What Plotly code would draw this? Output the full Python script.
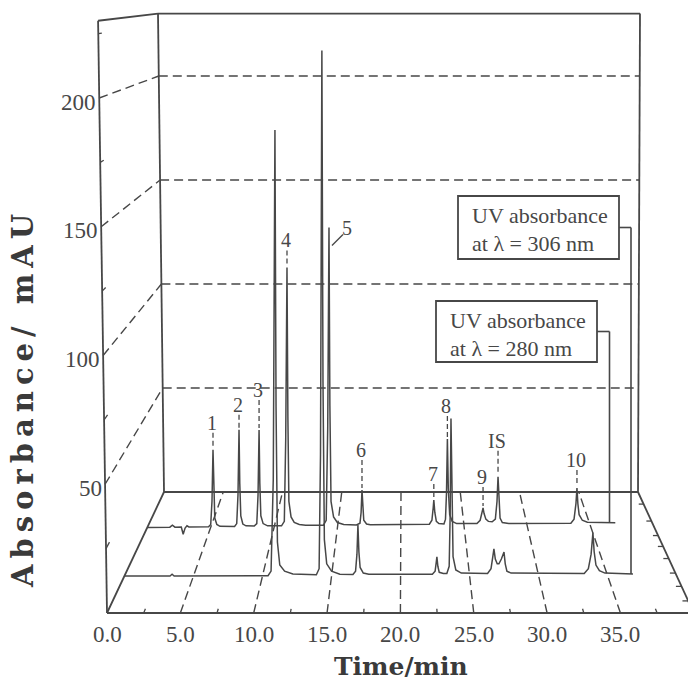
import plotly.graph_objects as go

# ---------------- data ----------------
# chromatogram at 280 nm (rear trace): time (min), absorbance (mAU)
T280 = [0.0, 1.8, 2.0, 2.2, 2.7, 2.85, 3.0, 3.15, 3.3, 4.85, 5.02, 5.12, 5.2, 5.26, 5.34, 5.5, 5.75,
        6.9, 7.07, 7.17, 7.25, 7.31, 7.39, 7.55, 7.8, 8.45, 8.65, 8.75, 8.83, 8.89, 8.97, 9.15, 9.5,
        10.6, 10.82, 10.93, 11.03, 11.1, 11.18, 11.35, 11.6, 12.0, 12.5, 13.9, 14.12, 14.24, 14.34,
        14.41, 14.5, 14.7, 15.0, 15.5, 16.5, 16.78, 16.87, 16.94, 17.0, 17.08, 17.3, 17.6, 22.25,
        22.45, 22.55, 22.6, 22.68, 22.8, 23.0, 23.3, 23.4, 23.52, 23.6, 23.67, 23.74, 23.85, 24.05,
        24.4, 26.0, 26.25, 26.4, 26.48, 26.56, 26.7, 26.9, 27.2, 27.45, 27.58, 27.66, 27.73, 27.82,
        28.0, 28.5, 33.4, 33.65, 33.8, 33.88, 33.95, 34.05, 34.3, 34.7, 36.9]
A280 = [0.3, 0.4, 1.3, 0.4, 0.5, -2.8, 0.0, 1.0, 0.5, 0.6, 1.6, 12.0, 35.1, 16.0, 4.5, 1.6, 0.8,
        0.7, 2.0, 15.0, 44.1, 20.0, 5.5, 1.8, 1.0, 0.9, 2.0, 15.0, 44.0, 20.0, 5.5, 2.0, 1.0,
        1.0, 3.0, 40.0, 117.0, 50.0, 12.0, 5.0, 2.5, 1.6, 1.3, 1.3, 3.5, 45.0, 134.9,
        55.0, 12.0, 5.0, 2.5, 1.6, 1.4, 2.2, 7.0, 17.1, 8.0, 3.5, 1.8, 1.5, 1.7,
        3.5, 9.0, 12.6, 7.0, 3.0, 2.0, 1.8, 1.8, 4.0, 16.0, 40.0, 18.0, 6.0, 3.0,
        2.0, 2.0, 3.5, 7.0, 9.0, 6.5, 4.0, 3.0, 2.8, 4.0, 12.0, 23.0, 11.0, 4.5,
        2.5, 2.1, 2.2, 4.0, 11.0, 18.0, 11.0, 6.0, 3.5, 2.6, 2.4]

# chromatogram at 306 nm (front trace)
T306 = [0.0, 3.3, 3.45, 3.6, 10.4, 10.62, 10.78, 10.9, 10.98, 11.08, 11.25, 11.6, 12.2, 13.9, 14.1,
        14.2, 14.3, 14.38, 14.48, 14.65, 15.0, 15.6, 16.55, 16.74, 16.84, 16.91, 16.98, 17.07, 17.3,
        17.7, 22.3, 22.5, 22.58, 22.63, 22.7, 22.8, 23.1, 23.35, 23.52, 23.59, 23.65, 23.71, 23.8,
        24.0, 24.4, 26.3, 26.55, 26.68, 26.76, 26.86, 27.0, 27.12, 27.3, 27.49, 27.58, 27.7, 28.0,
        33.3, 33.6, 33.8, 33.93, 34.02, 34.15, 34.4, 34.8, 36.83]
A306 = [0.0, 0.0, 0.7, 0.0, 0.1, 2.0, 40.0, 184.0, 70.0, 14.0, 4.5, 2.0, 0.8, 0.5, 3.0,
        50.0, 216.8, 80.0, 15.0, 5.0, 2.0, 0.7, 0.6, 2.0, 9.0, 21.0, 10.0, 3.5, 1.2,
        0.7, 0.7, 2.0, 5.5, 7.9, 4.0, 1.5, 1.0, 1.0, 4.0, 25.0, 65.0, 30.0, 8.0,
        2.5, 1.2, 1.0, 3.0, 8.0, 11.2, 7.0, 5.0, 5.0, 7.0, 9.9, 5.0, 2.0, 1.2,
        1.0, 3.0, 9.0, 17.8, 10.0, 4.5, 2.2, 1.2, 0.8]

PEAK_NAMES = ["1", "2", "3", "4", "5", "6", "7", "8", "9", "IS", "10"]
PEAK_TIMES = [5.2, 7.25, 8.83, 11.03, 14.34, 16.94, 22.6, 23.67, 26.48, 27.66, 33.88]
PEAK_TOPS = [35.1, 44.1, 44.0, 117.0, 134.9, 17.1, 12.6, 40.0, 9.0, 23.0, 18.0]

X_TICKS = [0, 5, 10, 15, 20, 25, 30, 35]
X_TICK_TEXT = ["0.0", "5.0", "10.0", "15.0", "20.0", "25.0", "30.0", "35.0"]
X_MINOR = [2.5, 7.5, 12.5, 17.5, 22.5, 27.5, 32.5, 37.5]
Y_TICKS = [50, 100, 150, 200]
Y_TICK_TEXT = ["50", "100", "150", "200"]
Y_MINOR = [25, 75, 125, 175, 225]
DEPTH_TICKS = [0.1, 0.22, 0.33, 0.45, 0.55, 0.64, 0.76, 0.9]

BOX_TEXT_306 = ["UV absorbance", "at \u03bb = 306 nm"]
BOX_TEXT_280 = ["UV absorbance", "at \u03bb = 280 nm"]

# ---------------- pseudo-3D projection (styling/geometry) ----------------
T_MAX, A_MAX = 40.0, 230.0
S_306, S_280 = 0.306, 0.702          # depth of the two traces (0 = front, 1 = back)
INK = "#474747"
SERIF = "Liberation Serif, Times New Roman, serif"


def proj(t, a, s, slant=False):
    x0 = 107 + (164 - 107) * s
    sx = 14.67 + (11.85 - 14.67) * s
    y0 = 613 + (492 - 613) * s
    sa = 2.575 + (2.08 - 2.575) * s
    X = x0 + sx * t
    if slant:
        sk_l = 9 / 232 + (6 / 230 - 9 / 232) * s
        sk_r = -2 / 230
        X -= (sk_l + (sk_r - sk_l) * t / T_MAX) * a
    Y = y0 - sa * a
    return X, Y


def seg_trace(segs, dash="solid", width=1.4):
    xs, ys = [], []
    for p, q in segs:
        xs += [p[0], q[0], None]
        ys += [p[1], q[1], None]
    return go.Scatter(x=xs, y=ys, mode="lines", hoverinfo="skip",
                      line=dict(color=INK, width=width, dash=dash))


fig = go.Figure()

# solid frame
P = lambda t, a, s: proj(t, a, s, slant=True)
solid = [
    (P(0, 0, 0), P(0, A_MAX, 0)),
    (P(0, A_MAX, 0), P(0, A_MAX, 1)),
    (P(0, 0, 1), P(0, A_MAX, 1)),
    (P(0, A_MAX, 1), P(T_MAX, A_MAX, 1)),
    (P(T_MAX, 0, 1), P(T_MAX, A_MAX, 1)),
    (P(0, 0, 1), P(T_MAX, 0, 1)),
    (P(0, 0, 0), P(0, 0, 1)),
    (P(T_MAX, 0, 0), P(T_MAX, 0, 1)),
    (P(0, 0, 0), P(T_MAX, 0, 0)),
]
ticks = []
for t in X_MINOR:
    ticks.append((P(t, 0, 0), P(t, 0, 0.035)))
for a in Y_MINOR:
    ticks.append((P(0, a, 0), P(0, a, 0.06)))
for s in DEPTH_TICKS:
    ticks.append((P(T_MAX, 0, s), P(T_MAX - 0.4, 0, s)))
fig.add_trace(seg_trace(solid, width=1.8))
fig.add_trace(seg_trace(ticks, width=1.3))

# dashed grid
dashed = []
for t in X_TICKS[1:]:
    dashed.append((P(t, 0, 0), P(t, 0, 1)))
for a in Y_TICKS:
    dashed.append((P(0, a, 0), P(0, a, 1)))
    dashed.append((P(0, a, 1), P(T_MAX, a, 1)))
fig.add_trace(seg_trace(dashed, dash="9px,5px", width=1.4))

# chromatograms
for T, A, s in ((T280, A280, S_280), (T306, A306, S_306)):
    pts = [proj(t, a, s) for t, a in zip(T, A)]
    fig.add_trace(go.Scatter(x=[p[0] for p in pts], y=[p[1] for p in pts], mode="lines",
                             hoverinfo="skip", line=dict(color=INK, width=1.5)))

# peak labels + leaders (on the 280 nm trace)
LABEL_RISE = [27, 25, 40, 27, 0, 40, 26, 33, 31, 36, 28]
annotations = []
leaders = []
for name, t, a, rise in zip(PEAK_NAMES, PEAK_TIMES, PEAK_TOPS, LABEL_RISE):
    X, Y = proj(t, a, S_280)
    if name == "5":
        lx, ly = X + 18, Y
        leaders_5 = ((lx - 4, ly + 7), (lx - 15, ly + 18))
    else:
        lx, ly = X - 1, Y - rise
        leaders.append(((X, ly + 10), (X, Y - 2)))
    annotations.append(dict(x=lx, y=ly, text=name, showarrow=False, xref="x", yref="y",
                            font=dict(family=SERIF, size=20, color=INK)))
fig.add_trace(seg_trace(leaders, dash="5px,3px", width=1.3))
fig.add_trace(seg_trace([leaders_5], width=1.3))

# axis tick labels
for t, txt in zip(X_TICKS, X_TICK_TEXT):
    X, Y = proj(t, 0, 0)
    annotations.append(dict(x=X, y=Y + 21, text=txt, showarrow=False, xref="x", yref="y",
                            font=dict(family=SERIF, size=23, color=INK)))
for a, txt in zip(Y_TICKS, Y_TICK_TEXT):
    X, Y = proj(0, a, 0, slant=True)
    annotations.append(dict(x=X - 1, y=Y + 4, text=txt, showarrow=False, xref="x", yref="y",
                            xanchor="right", font=dict(family=SERIF, size=23, color=INK)))

# axis titles
annotations.append(dict(x=401, y=666, text="<b>Time/min</b>", showarrow=False, xref="x", yref="y",
                        font=dict(family="DejaVu Serif", size=25, color="#3a3a3a")))
annotations.append(dict(x=23, y=398,
                        text="<b><span style='letter-spacing:6px'>Absorbance/ mAU</span></b>",
                        showarrow=False, xref="x", yref="y", textangle=-90,
                        font=dict(family="DejaVu Serif", size=29, color="#3a3a3a")))

# legend boxes with connectors
shapes = []
boxes = [
    (BOX_TEXT_306, (458, 196, 619, 259), T306, A306, S_306, 631),
    (BOX_TEXT_280, (436, 301, 597, 362), T280, A280, S_280, 609.5),
]
conn = []
for lines, (bx0, by0, bx1, by1), T, A, s, xc in boxes:
    shapes.append(dict(type="rect", xref="x", yref="y", x0=bx0, y0=by0, x1=bx1, y1=by1,
                       line=dict(color=INK, width=1.8)))
    annotations.append(dict(x=bx0 + 12, y=by0 + 19, text=lines[0], showarrow=False, xref="x",
                            yref="y", xanchor="left",
                            font=dict(family=SERIF, size=22, color=INK)))
    annotations.append(dict(x=bx0 + 12, y=by0 + 47, text=lines[1], showarrow=False, xref="x",
                            yref="y", xanchor="left",
                            font=dict(family=SERIF, size=22, color=INK)))
    ym = (by0 + by1) / 2
    _, yend = proj(T[-1], A[-1], s)
    conn.append(((bx1, ym), (xc, ym)))
    conn.append(((xc, ym), (xc, yend)))
fig.add_trace(seg_trace(conn, width=1.6))

fig.update_layout(
    width=688, height=689, margin=dict(l=0, r=0, t=0, b=0),
    paper_bgcolor="white", plot_bgcolor="white", showlegend=False,
    xaxis=dict(range=[0, 688], visible=False, fixedrange=True),
    yaxis=dict(range=[689, 0], visible=False, fixedrange=True),
    annotations=annotations, shapes=shapes,
)
fig.write_html("out.html", config={"displayModeBar": False},
               post_script="document.body.style.margin='0px';"
                           "document.body.style.overflow='hidden';")
